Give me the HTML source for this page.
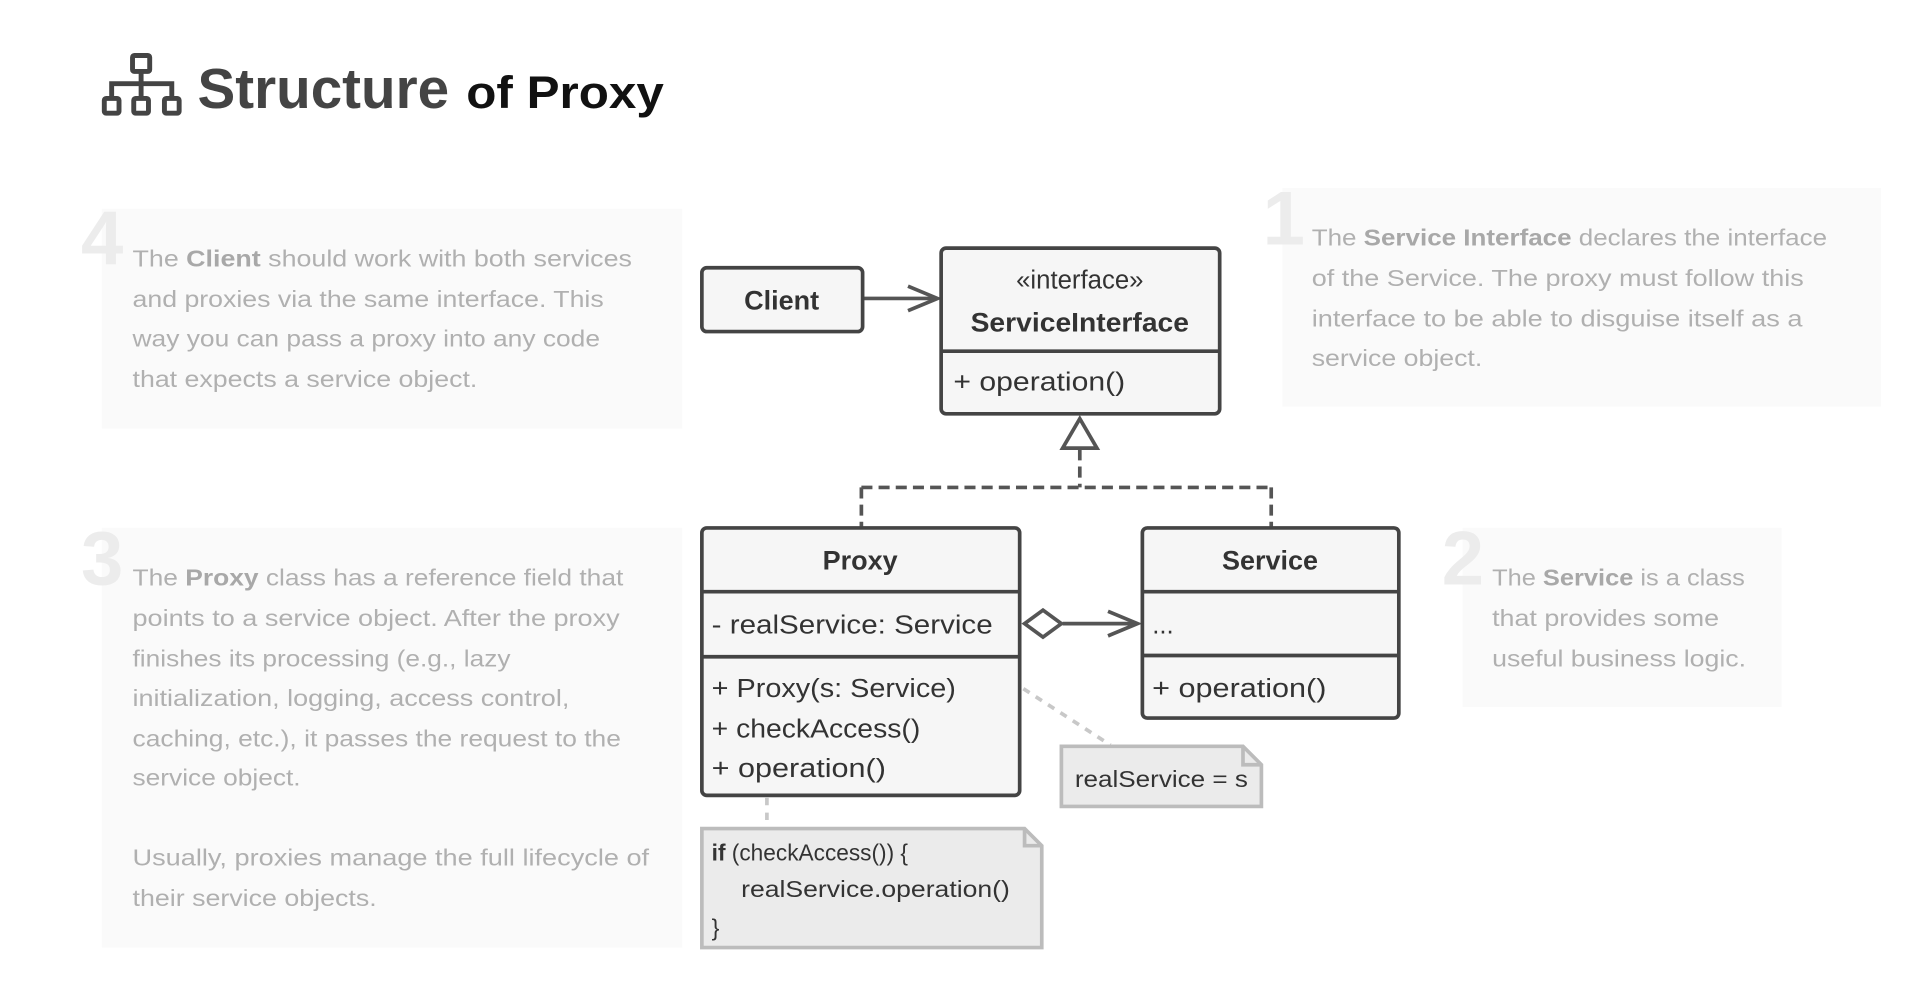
<!DOCTYPE html>
<html><head><meta charset="utf-8"><style>
html,body{margin:0;padding:0;background:#fff;}
svg{display:block;}
text{font-family:"Liberation Sans",sans-serif;}
.p{font-size:19px;fill:#b0b0b0;}
.p tspan.b{font-weight:bold;fill:#a8a8a8;}
.num{font-size:62px;font-weight:bold;fill:#ececec;}
.bx{fill:#f6f6f6;stroke:#444;stroke-width:3;}
.t{font-size:21px;fill:#333;}
.tb{font-size:22px;font-weight:bold;fill:#333;}
.note{fill:#ebebeb;stroke:#bcbcbc;stroke-width:3;}
</style></head><body>
<svg width="1924" height="992" viewBox="0 0 1568 808" xmlns="http://www.w3.org/2000/svg">
<!-- title icon -->
<g fill="none" stroke="#444" stroke-width="4">
<rect x="108" y="45" width="14" height="13" rx="1.5"/>
<path d="M115 58 V68 M91 78 V68 H140 V78 M115 68 V78"/>
<rect x="85" y="80" width="12" height="12" rx="1.5"/>
<rect x="109" y="80" width="12" height="12" rx="1.5"/>
<rect x="134" y="80" width="12" height="12" rx="1.5"/>
</g>
<text x="161" y="88" font-size="46" font-weight="bold" fill="#444" textLength="205" lengthAdjust="spacingAndGlyphs">Structure</text>
<text x="380" y="88" font-size="37" font-weight="bold" fill="#111" textLength="161" lengthAdjust="spacingAndGlyphs">of Proxy</text>

<!-- panels -->
<rect x="83" y="170" width="473" height="179" fill="#fafafa"/>
<text x="66" y="215" class="num">4</text>
<text class="p" x="108" y="217" textLength="407" lengthAdjust="spacingAndGlyphs">The <tspan class="b">Client</tspan> should work with both services</text>
<text class="p" x="108" y="250" textLength="384" lengthAdjust="spacingAndGlyphs">and proxies via the same interface. This</text>
<text class="p" x="108" y="282" textLength="381" lengthAdjust="spacingAndGlyphs">way you can pass a proxy into any code</text>
<text class="p" x="108" y="315" textLength="281" lengthAdjust="spacingAndGlyphs">that expects a service object.</text>

<rect x="1045" y="153" width="488" height="178" fill="#fafafa"/>
<text x="1029" y="199" class="num">1</text>
<text class="p" x="1069" y="200" textLength="420" lengthAdjust="spacingAndGlyphs">The <tspan class="b">Service Interface</tspan> declares the interface</text>
<text class="p" x="1069" y="233" textLength="401" lengthAdjust="spacingAndGlyphs">of the Service. The proxy must follow this</text>
<text class="p" x="1069" y="266" textLength="400" lengthAdjust="spacingAndGlyphs">interface to be able to disguise itself as a</text>
<text class="p" x="1069" y="298" textLength="139" lengthAdjust="spacingAndGlyphs">service object.</text>

<rect x="83" y="430" width="473" height="342" fill="#fafafa"/>
<text x="66" y="476" class="num">3</text>
<text class="p" x="108" y="477" textLength="400" lengthAdjust="spacingAndGlyphs">The <tspan class="b">Proxy</tspan> class has a reference field that</text>
<text class="p" x="108" y="510" textLength="397" lengthAdjust="spacingAndGlyphs">points to a service object. After the proxy</text>
<text class="p" x="108" y="543" textLength="308" lengthAdjust="spacingAndGlyphs">finishes its processing (e.g., lazy</text>
<text class="p" x="108" y="575" textLength="356" lengthAdjust="spacingAndGlyphs">initialization, logging, access control,</text>
<text class="p" x="108" y="608" textLength="398" lengthAdjust="spacingAndGlyphs">caching, etc.), it passes the request to the</text>
<text class="p" x="108" y="640" textLength="137" lengthAdjust="spacingAndGlyphs">service object.</text>
<text class="p" x="108" y="705" textLength="421" lengthAdjust="spacingAndGlyphs">Usually, proxies manage the full lifecycle of</text>
<text class="p" x="108" y="738" textLength="199" lengthAdjust="spacingAndGlyphs">their service objects.</text>

<rect x="1192" y="430" width="260" height="146" fill="#fafafa"/>
<text x="1175" y="476" class="num">2</text>
<text class="p" x="1216" y="477" textLength="206" lengthAdjust="spacingAndGlyphs">The <tspan class="b">Service</tspan> is a class</text>
<text class="p" x="1216" y="510" textLength="185" lengthAdjust="spacingAndGlyphs">that provides some</text>
<text class="p" x="1216" y="543" textLength="207" lengthAdjust="spacingAndGlyphs">useful business logic.</text>

<!-- connectors -->
<g stroke="#555" stroke-width="3" fill="none">
<path d="M703 243 H764"/>
<path d="M740 233 L764 243 L740 253"/>
<path d="M880 366 V397 M702 397 H1036 M702 397 V430 M1036 397 V430" stroke-dasharray="9,5"/>
<path d="M866 508 H927"/>
<path d="M903 498 L927 508 L903 518"/>
</g>
<polygon points="880,341 866,365 894,365" fill="#fff" stroke="#555" stroke-width="3"/>
<polygon points="835,508 850,497 865,508 850,519" fill="#fff" stroke="#555" stroke-width="3"/>
<path d="M834 561 L905 607" stroke="#c8c8c8" stroke-width="3" stroke-dasharray="6,6" fill="none"/>
<path d="M625 650 V670" stroke="#c8c8c8" stroke-width="3" stroke-dasharray="6,6" fill="none"/>

<!-- Client -->
<rect class="bx" x="572" y="218" width="131" height="52" rx="4"/>
<text class="tb" x="637" y="252" text-anchor="middle">Client</text>

<!-- ServiceInterface -->
<rect class="bx" x="767" y="202" width="227" height="135" rx="4"/>
<path d="M767 286 H994" stroke="#444" stroke-width="3"/>
<text class="t" x="880" y="235" text-anchor="middle">«interface»</text>
<text class="tb" x="880" y="270" text-anchor="middle" textLength="178" lengthAdjust="spacingAndGlyphs">ServiceInterface</text>
<text class="t" x="777" y="318" textLength="140" lengthAdjust="spacingAndGlyphs">+ operation()</text>

<!-- Proxy -->
<rect class="bx" x="572" y="430" width="259" height="218" rx="4"/>
<path d="M572 482 H831 M572 535 H831" stroke="#444" stroke-width="3"/>
<text class="tb" x="701" y="464" text-anchor="middle">Proxy</text>
<text class="t" x="580" y="516" textLength="229" lengthAdjust="spacingAndGlyphs">- realService: Service</text>
<text class="t" x="580" y="568" textLength="199" lengthAdjust="spacingAndGlyphs">+ Proxy(s: Service)</text>
<text class="t" x="580" y="601" textLength="170" lengthAdjust="spacingAndGlyphs">+ checkAccess()</text>
<text class="t" x="580" y="633" textLength="142" lengthAdjust="spacingAndGlyphs">+ operation()</text>

<!-- Service -->
<rect class="bx" x="931" y="430" width="209" height="155" rx="4"/>
<path d="M931 482 H1140 M931 534 H1140" stroke="#444" stroke-width="3"/>
<text class="tb" x="1035" y="464" text-anchor="middle">Service</text>
<text class="t" x="939" y="516">...</text>
<text class="t" x="939" y="568" textLength="142" lengthAdjust="spacingAndGlyphs">+ operation()</text>

<!-- notes -->
<path class="note" d="M865 608 H1013 L1028 623 V657 H865 Z"/>
<path d="M1013 608 V623 H1028" fill="none" stroke="#bcbcbc" stroke-width="3"/>
<text x="876" y="641" font-size="19" fill="#333" textLength="141" lengthAdjust="spacingAndGlyphs">realService = s</text>

<path class="note" d="M572 675 H835 L849 689 V772 H572 Z"/>
<path d="M835 675 V689 H849" fill="none" stroke="#bcbcbc" stroke-width="3"/>
<text x="580" y="701" font-size="19" fill="#333" textLength="160" lengthAdjust="spacingAndGlyphs"><tspan font-weight="bold">if</tspan> (checkAccess()) {</text>
<text x="604" y="731" font-size="19" fill="#333" textLength="219" lengthAdjust="spacingAndGlyphs">realService.operation()</text>
<text x="580" y="762" font-size="19" fill="#333">}</text>
</svg>
</body></html>
